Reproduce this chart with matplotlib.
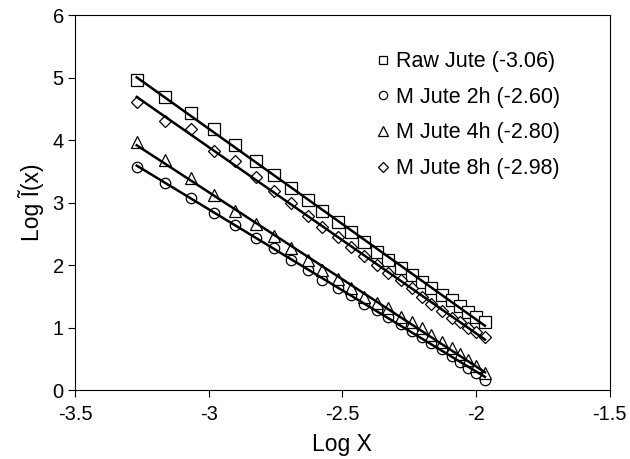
import numpy as np
import matplotlib
matplotlib.use("Agg")
import matplotlib.pyplot as plt

plt.rcParams['font.family'] = ['Liberation Sans', 'DejaVu Sans']

# log X values shared by all series
log_x = [-3.269, -3.164, -3.067, -2.979, -2.902, -2.823, -2.755, -2.693, -2.630,
         -2.578, -2.516, -2.468, -2.419, -2.372, -2.329, -2.282, -2.241, -2.202,
         -2.167, -2.129, -2.092, -2.061, -2.030, -2.001, -1.967]

raw_jute = [4.96, 4.69, 4.44, 4.18, 3.92, 3.66, 3.45, 3.24, 3.04, 2.86, 2.69, 2.53,
            2.37, 2.21, 2.09, 1.96, 1.85, 1.73, 1.64, 1.52, 1.44, 1.34, 1.25, 1.17, 1.09]
m_jute_2h = [3.57, 3.31, 3.07, 2.84, 2.65, 2.44, 2.27, 2.09, 1.93, 1.77, 1.64, 1.52,
             1.38, 1.28, 1.17, 1.06, 0.94, 0.85, 0.75, 0.66, 0.54, 0.45, 0.35, 0.27, 0.16]
m_jute_4h = [3.97, 3.68, 3.40, 3.12, 2.87, 2.66, 2.46, 2.27, 2.09, 1.92, 1.78, 1.63,
             1.49, 1.39, 1.31, 1.17, 1.09, 0.99, 0.88, 0.77, 0.67, 0.58, 0.48, 0.38, 0.27]
m_jute_8h = [4.61, 4.30, 4.18, 3.83, 3.67, 3.41, 3.19, 2.99, 2.79, 2.61, 2.45, 2.29,
             2.14, 2.00, 1.87, 1.76, 1.63, 1.49, 1.38, 1.27, 1.16, 1.09, 1.00, 0.93, 0.85]

labels = ['Raw Jute (-3.06)', 'M Jute 2h (-2.60)', 'M Jute 4h (-2.80)', 'M Jute 8h (-2.98)']
markers = ['s', 'o', '^', 'D']
sizes = [8, 7.5, 9, 6]

series = [raw_jute, m_jute_2h, m_jute_4h, m_jute_8h]

fig, ax = plt.subplots(figsize=(6.3, 4.59), dpi=100)
fig.subplots_adjust(left=0.119, right=0.968, top=0.967, bottom=0.150)

x = np.array(log_x)
for ys, lab, m, s in zip(series, labels, markers, sizes):
    ys = np.array(ys)
    ax.plot(x, ys, linestyle='none', marker=m, markersize=s, markerfacecolor='white',
            markeredgecolor='black', markeredgewidth=0.9, label=lab, zorder=2)
    k, b = np.polyfit(x, ys, 1)
    ax.plot(x[[0, -1]], k * x[[0, -1]] + b, color='black', linewidth=1.8, zorder=3)

ax.set_xlim(-3.5, -1.5)
ax.set_ylim(0, 6)
ax.set_xticks([-3.5, -3, -2.5, -2, -1.5])
ax.set_xticklabels(['-3.5', '-3', '-2.5', '-2', '-1.5'])
ax.set_yticks(range(7))
ax.tick_params(labelsize=14.5, direction='out', length=5, width=0.8, pad=3)
ax.tick_params(axis='x', pad=6)
ax.set_xlabel('Log X', fontsize=16.5, labelpad=6)
ax.set_ylabel('Log Ĩ(x)', fontsize=16.5, labelpad=6)
for sp in ax.spines.values():
    sp.set_linewidth(0.8)

leg = ax.legend(loc='upper left', bbox_to_anchor=(0.547, 0.927), frameon=False,
                fontsize=15.5, handlelength=0.6, handletextpad=0.3, labelspacing=0.68,
                markerscale=0.8, borderaxespad=0)

fig.savefig('out.png', dpi=100)
